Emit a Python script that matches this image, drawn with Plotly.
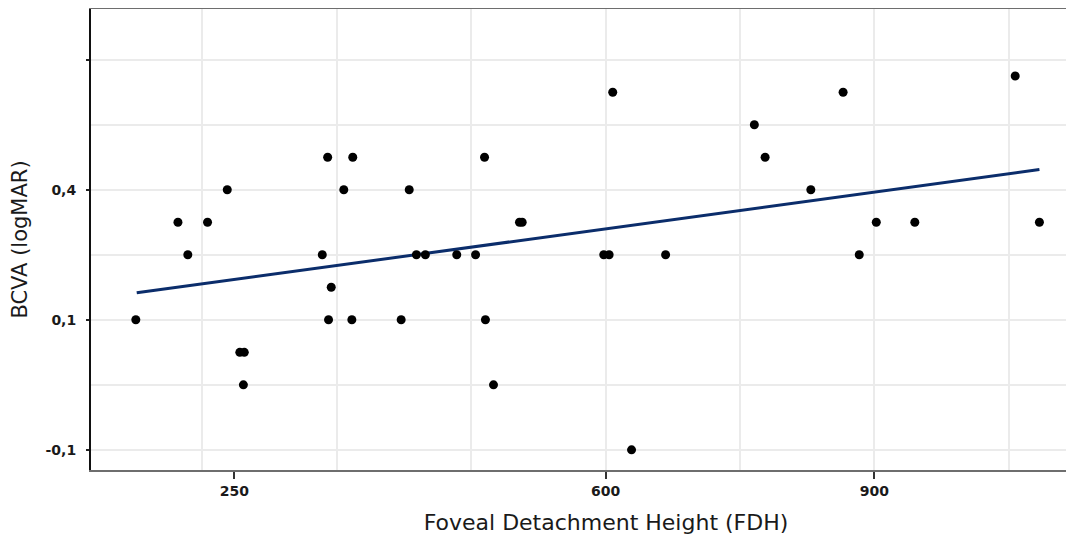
import plotly.graph_objects as go

# Data
fdh = [76, 123, 134, 156, 178, 192, 197, 196, 284, 290, 291, 294, 308, 318, 317,
       372, 381, 389, 399, 434, 455, 465, 466, 475, 504, 507, 598, 604, 608, 629,
       667, 766, 778, 829, 865, 883, 902, 945, 1057, 1084]
bcva = [0.1, 0.25, 0.2, 0.25, 0.3, 0.05, 0.05, 0.0, 0.2, 0.35, 0.1, 0.15, 0.3, 0.35, 0.1,
        0.1, 0.3, 0.2, 0.2, 0.2, 0.2, 0.35, 0.1, 0.0, 0.25, 0.25, 0.2, 0.2, 0.45, -0.1,
        0.2, 0.4, 0.35, 0.3, 0.45, 0.2, 0.25, 0.25, 0.475, 0.25]

# Fitted regression line endpoints
fit_x = [77, 1084]
fit_y = [0.1415, 0.331]

# Tick labels as printed on the reference
x_tick_text = ["250", "600", "900"]
y_tick_text = ["-0,1", "0,1", "0,4", ""]

# Axis positions for ticks / grid
x_tick_pos = [186, 600, 900]
x_grid_pos = [150, 300, 450, 600, 750, 900, 1050]
y_tick_pos = [-0.1, 0.1, 0.3, 0.5]
y_grid_pos = [-0.1, 0.0, 0.1, 0.2, 0.3, 0.4, 0.5]

FONT = "DejaVu Sans"

fig = go.Figure()
fig.add_trace(go.Scatter(
    x=fit_x, y=fit_y, mode="lines",
    line=dict(color="#0b2d6b", width=3),
    showlegend=False, hoverinfo="skip"))
fig.add_trace(go.Scatter(
    x=fdh, y=bcva, mode="markers",
    marker=dict(color="black", size=9),
    showlegend=False))

fig.update_layout(
    width=1113, height=534,
    margin=dict(l=83, r=0, t=1, b=72, autoexpand=False),
    paper_bgcolor="white", plot_bgcolor="white",
    font=dict(family=FONT, color="#1a1a1a"),
    xaxis=dict(
        range=[26, 1175],
        tickvals=x_tick_pos, ticktext=x_tick_text,
        ticks="outside", ticklen=7, tickwidth=2, tickcolor="#333",
        tickfont=dict(family=FONT, size=14, color="#1a1a1a", weight="bold"),
        showgrid=False, zeroline=False,
        minor=dict(tickvals=x_grid_pos, showgrid=True, gridcolor="#ebebeb", gridwidth=2, ticks=""),
        showline=True, linecolor="#6e6e6e", linewidth=2, mirror=True,
        title=dict(text="Foveal Detachment Height (FDH)", standoff=17,
                   font=dict(family=FONT, size=22, color="#1a1a1a")),
    ),
    yaxis=dict(
        range=[-0.131, 0.578],
        tickvals=y_tick_pos, ticktext=y_tick_text,
        ticks="outside", ticklen=3, tickwidth=1.5, tickcolor="#222",
        ticklabelstandoff=7,
        tickfont=dict(family=FONT, size=14, color="#1a1a1a", weight="bold"),
        showgrid=True, gridcolor="#ebebeb", gridwidth=2, zeroline=False,
        minor=dict(tickvals=y_grid_pos, showgrid=True, gridcolor="#ebebeb", gridwidth=2, ticks=""),
        showline=True, linecolor="#111", linewidth=2,
        title=dict(text="BCVA (logMAR)", standoff=12,
                   font=dict(family=FONT, size=21, color="#1a1a1a")),
    ),
)

fig.write_html("out.html")
